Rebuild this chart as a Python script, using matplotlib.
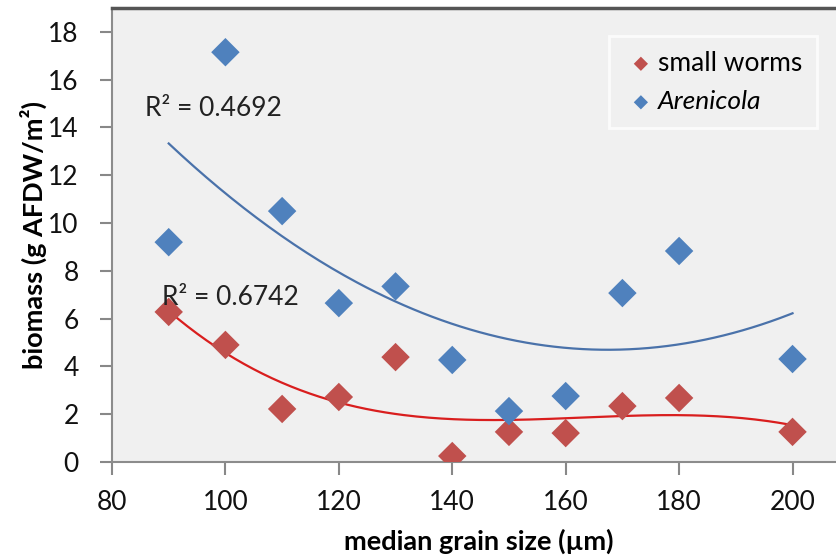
import numpy as np
import matplotlib
matplotlib.use("Agg")
import matplotlib.pyplot as plt

plt.rcParams['font.family'] = ['Lato', 'DejaVu Sans']

grain_size = [90, 100, 110, 120, 130, 140, 150, 160, 170, 180, 200]
arenicola = [9.2, 17.15, 10.5, 6.65, 7.35, 4.27, 2.13, 2.76, 7.07, 8.83, 4.31]
small_worms = [6.28, 4.9, 2.22, 2.72, 4.39, 0.25, 1.26, 1.21, 2.34, 2.68, 1.26]
r2_arenicola = "R² = 0.4692"
r2_small = "R² = 0.6742"
x_ticks = [80, 100, 120, 140, 160, 180, 200]
y_ticks = [0, 2, 4, 6, 8, 10, 12, 14, 16, 18]

blue = '#4F81BD'
red = '#C0504D'

fig = plt.figure(figsize=(8.37, 5.56), dpi=100)
ax = fig.add_axes([112/837, 1 - 462/556, (837 - 112)/837 + 0.01, (462 - 8)/556])
ax.set_facecolor('#F0F0F0')

x = np.array(grain_size, dtype=float)
xs = np.linspace(x.min(), x.max(), 200)
pb = np.polyfit(x, arenicola, 2)
pr = np.polyfit(x, small_worms, 3)
ax.plot(xs, np.polyval(pb, xs), color='#4A72AA', lw=1.6, zorder=2)
ax.plot(xs, np.polyval(pr, xs), color='#D91E1E', lw=1.6, zorder=2)

ax.scatter(x, small_worms, marker='D', s=210, color=red, label='small worms', zorder=3, edgecolors='none')
ax.scatter(x, arenicola, marker='D', s=210, color=blue, label='Arenicola', zorder=3, edgecolors='none')

ax.text(85.9, 14.8, r2_arenicola, fontsize=19, va='center', ha='left', color='#222222')
ax.text(88.8, 6.9, r2_small, fontsize=19, va='center', ha='left', color='#222222')

ax.set_xlim(80, 80 + (837 - 112)/5.65 + 1)
ax.set_ylim(0, 19)
ax.set_xticks(x_ticks)
ax.set_yticks(y_ticks)
ax.tick_params(axis='both', labelsize=19, color='#888888', length=9, width=1.5, direction='out', labelcolor='#111111')
ax.tick_params(axis='x', pad=11)
ax.tick_params(axis='y', pad=15)

ax.spines['right'].set_visible(False)
ax.spines['left'].set_color('#8C8C8C')
ax.spines['left'].set_linewidth(1.5)
ax.spines['bottom'].set_color('#8C8C8C')
ax.spines['bottom'].set_linewidth(1.5)
ax.spines['top'].set_color('#555555')
ax.spines['top'].set_linewidth(2.5)

ax.set_xlabel('median grain size (µm)', fontsize=19.5, fontweight='bold', labelpad=10)
ax.set_ylabel('biomass (g AFDW/m²)', fontsize=19.5, fontweight='bold', labelpad=1)

leg = ax.legend(loc='upper right', bbox_to_anchor=(830/837, 1 - 23/556), bbox_transform=fig.transFigure,
                fontsize=19, frameon=True, fancybox=False, handletextpad=0.0, markerscale=0.5,
                borderpad=0.55, labelspacing=0.55, handlelength=1.3)
leg.get_frame().set_facecolor('#F0F0F0')
leg.get_frame().set_edgecolor('white')
leg.get_frame().set_linewidth(2)
leg.get_texts()[1].set_style('italic')

fig.savefig('out.png', dpi=100)
